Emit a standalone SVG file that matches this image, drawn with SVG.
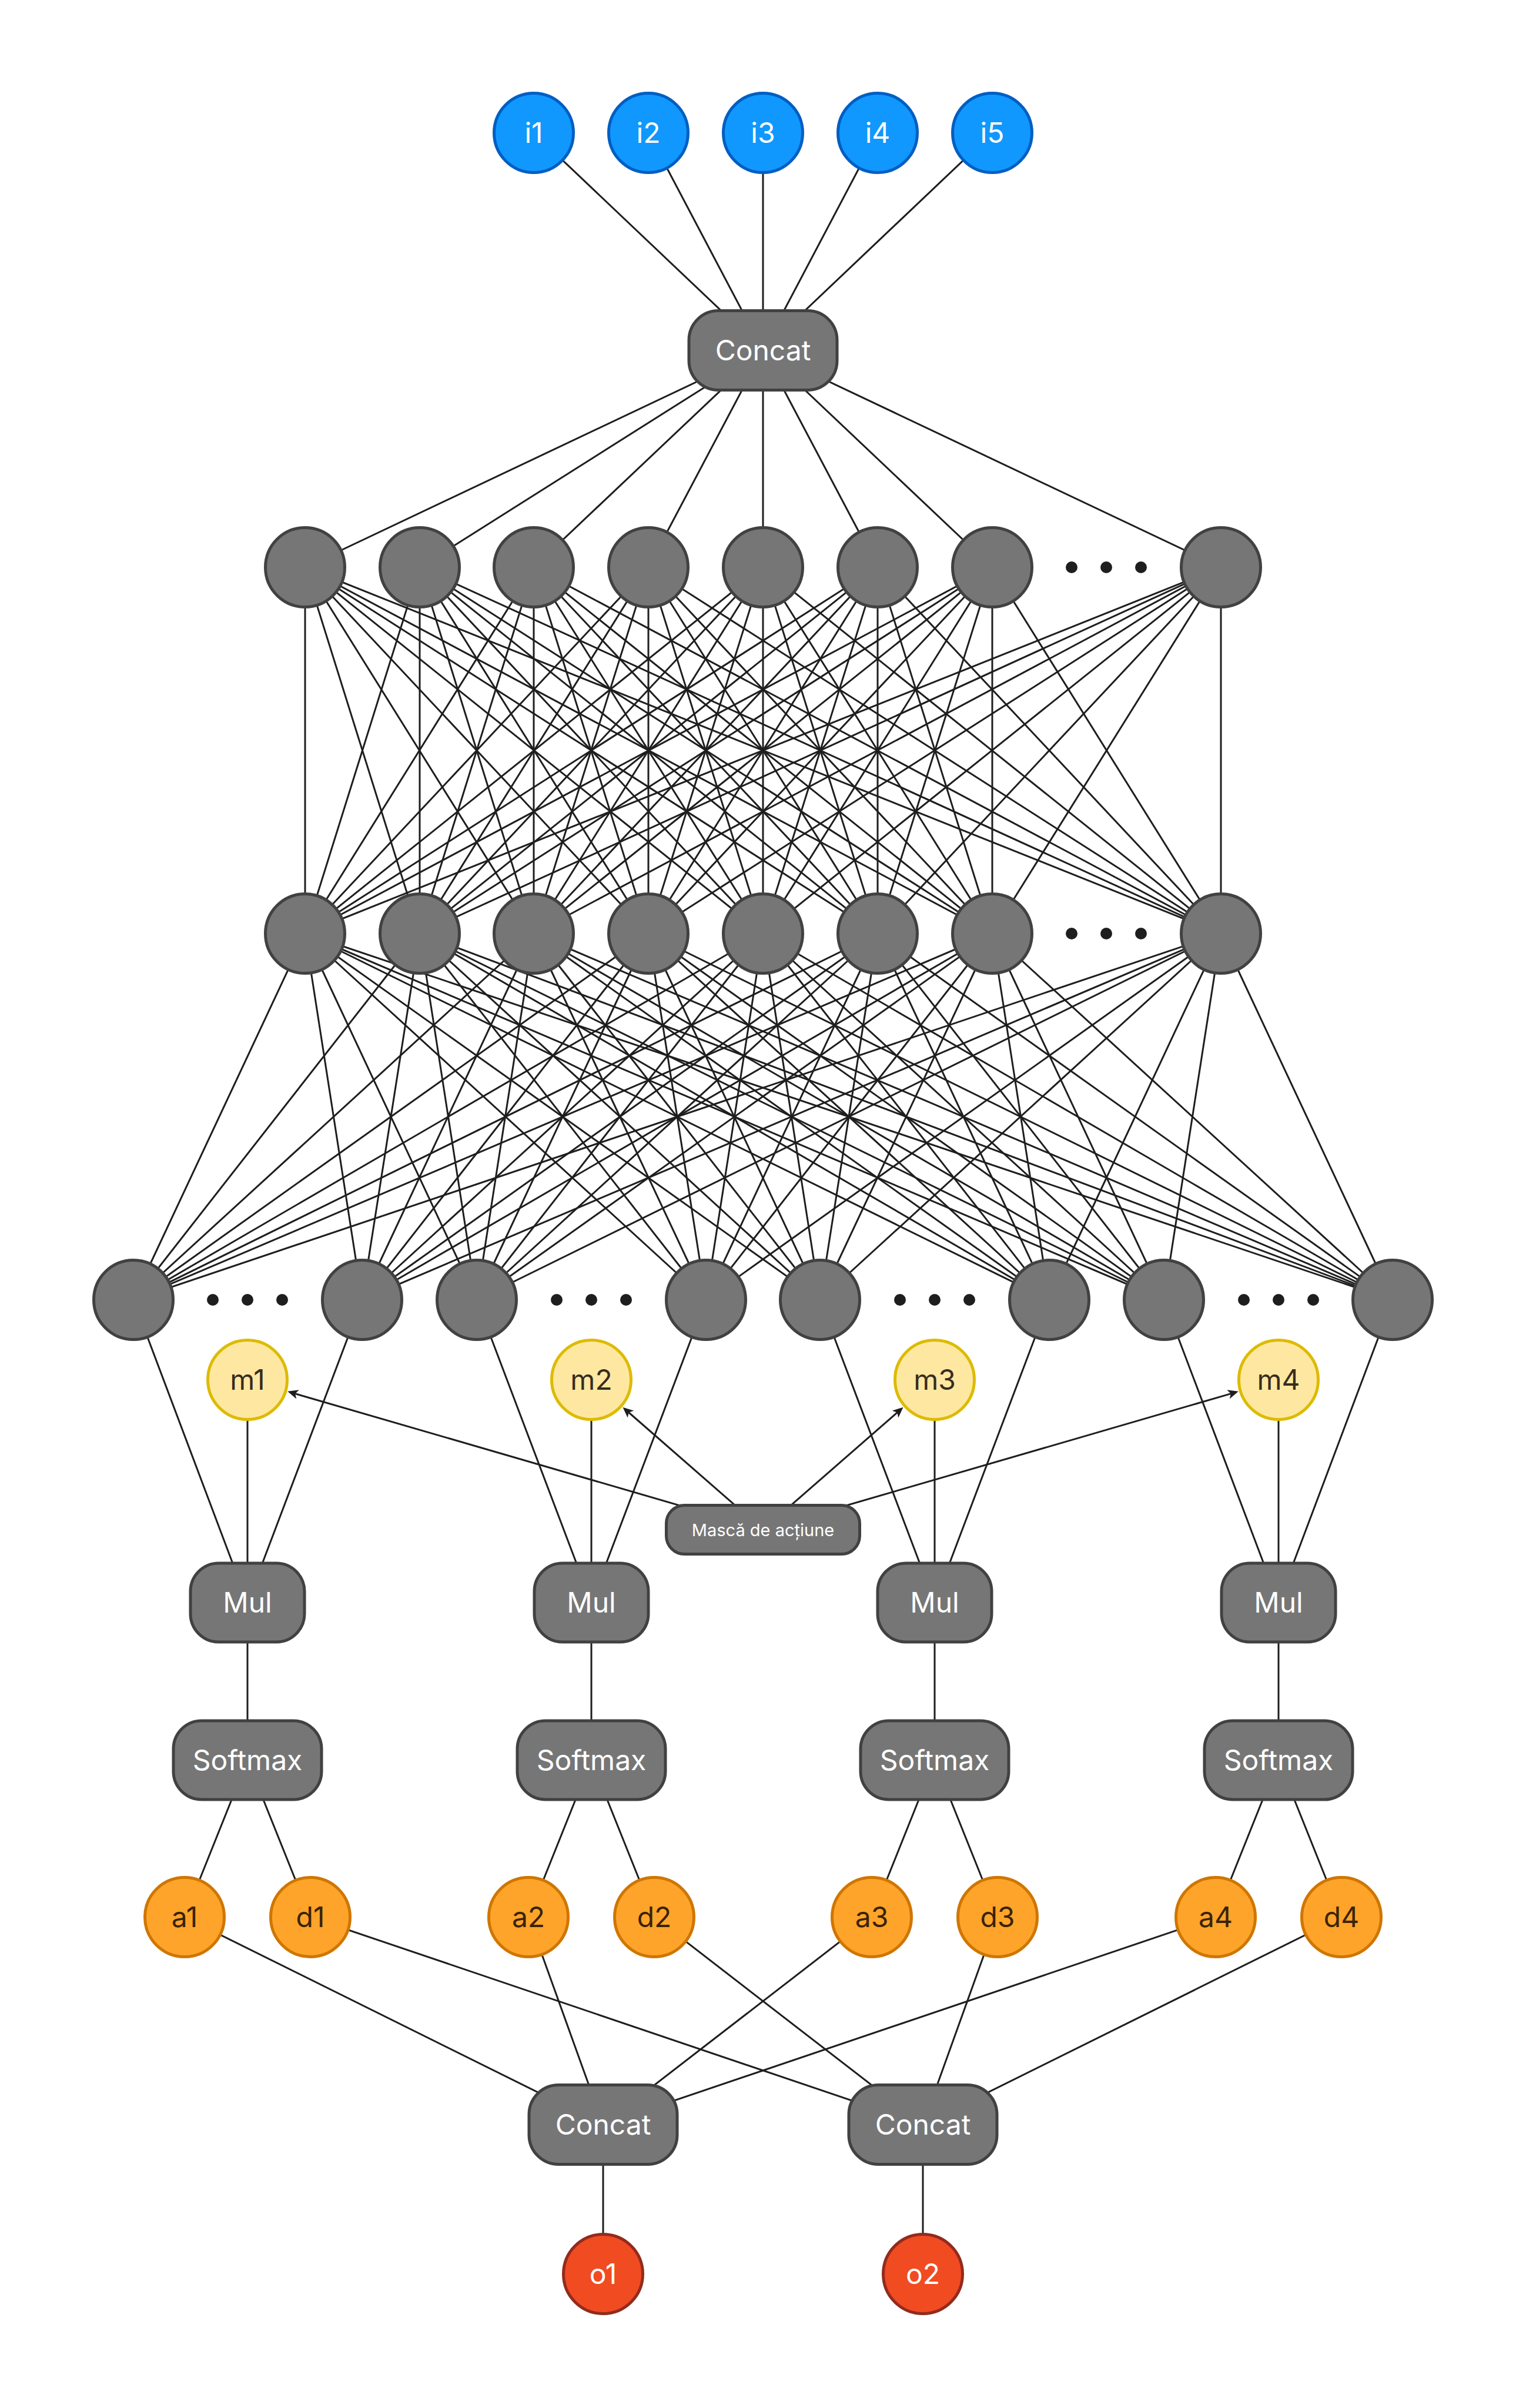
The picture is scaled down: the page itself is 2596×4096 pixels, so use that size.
<svg xmlns="http://www.w3.org/2000/svg" width="2596" height="4096" viewBox="0 0 2596 4096">
<style>
.ln{stroke:#1e1e1e;stroke-width:3;fill:none}
.g{fill:#767676;stroke:#414141;stroke-width:5}
.in{fill:#1098fe;stroke:#005ec2;stroke-width:5}
.m{fill:#fee8a1;stroke:#ddbb00;stroke-width:5}
.ad{fill:#fea42a;stroke:#cf7600;stroke-width:5}
.o{fill:#f14b22;stroke:#922b1d;stroke-width:5}
.dot{fill:#1e1e1e}
text{font-family:Inter,"Liberation Sans",sans-serif;font-size:48px;text-anchor:middle}
.w{fill:#ffffff}
.dk{fill:#382c1e}
.br{fill:#3a2306}
.sm{font-size:29px}
</style>
<defs>
<marker id="arr" markerUnits="userSpaceOnUse" viewBox="0 0 18 16" markerWidth="18" markerHeight="16" refX="10" refY="8" orient="auto">
<path d="M0 0L18 8L0 16L4.5 8Z" fill="#1e1e1e"/>
</marker>
</defs>
<rect width="2596" height="4096" fill="#ffffff"/>
<g id="connectors" class="ln">
<path d="M908 226L1298 596M1103 226L1298 596M1298 226L1298 596M1493 226L1298 596M1688 226L1298 596"/>
<path d="M1298 596L519 965M1298 596L714 965M1298 596L908 965M1298 596L1103 965M1298 596L1298 965M1298 596L1493 965M1298 596L1688 965M1298 596L2077 965"/>
<path d="M519 965L519 1588M519 965L714 1588M519 965L908 1588M519 965L1103 1588M519 965L1298 1588M519 965L1493 1588M519 965L1688 1588M519 965L2077 1588"/>
<path d="M714 965L519 1588M714 965L714 1588M714 965L908 1588M714 965L1103 1588M714 965L1298 1588M714 965L1493 1588M714 965L1688 1588M714 965L2077 1588"/>
<path d="M908 965L519 1588M908 965L714 1588M908 965L908 1588M908 965L1103 1588M908 965L1298 1588M908 965L1493 1588M908 965L1688 1588M908 965L2077 1588"/>
<path d="M1103 965L519 1588M1103 965L714 1588M1103 965L908 1588M1103 965L1103 1588M1103 965L1298 1588M1103 965L1493 1588M1103 965L1688 1588M1103 965L2077 1588"/>
<path d="M1298 965L519 1588M1298 965L714 1588M1298 965L908 1588M1298 965L1103 1588M1298 965L1298 1588M1298 965L1493 1588M1298 965L1688 1588M1298 965L2077 1588"/>
<path d="M1493 965L519 1588M1493 965L714 1588M1493 965L908 1588M1493 965L1103 1588M1493 965L1298 1588M1493 965L1493 1588M1493 965L1688 1588M1493 965L2077 1588"/>
<path d="M1688 965L519 1588M1688 965L714 1588M1688 965L908 1588M1688 965L1103 1588M1688 965L1298 1588M1688 965L1493 1588M1688 965L1688 1588M1688 965L2077 1588"/>
<path d="M2077 965L519 1588M2077 965L714 1588M2077 965L908 1588M2077 965L1103 1588M2077 965L1298 1588M2077 965L1493 1588M2077 965L1688 1588M2077 965L2077 1588"/>
<path d="M519 1588L227 2211M519 1588L616 2211M519 1588L811 2211M519 1588L1201 2211M519 1588L1395 2211M519 1588L1785 2211M519 1588L1980 2211M519 1588L2369 2211"/>
<path d="M714 1588L227 2211M714 1588L616 2211M714 1588L811 2211M714 1588L1201 2211M714 1588L1395 2211M714 1588L1785 2211M714 1588L1980 2211M714 1588L2369 2211"/>
<path d="M908 1588L227 2211M908 1588L616 2211M908 1588L811 2211M908 1588L1201 2211M908 1588L1395 2211M908 1588L1785 2211M908 1588L1980 2211M908 1588L2369 2211"/>
<path d="M1103 1588L227 2211M1103 1588L616 2211M1103 1588L811 2211M1103 1588L1201 2211M1103 1588L1395 2211M1103 1588L1785 2211M1103 1588L1980 2211M1103 1588L2369 2211"/>
<path d="M1298 1588L227 2211M1298 1588L616 2211M1298 1588L811 2211M1298 1588L1201 2211M1298 1588L1395 2211M1298 1588L1785 2211M1298 1588L1980 2211M1298 1588L2369 2211"/>
<path d="M1493 1588L227 2211M1493 1588L616 2211M1493 1588L811 2211M1493 1588L1201 2211M1493 1588L1395 2211M1493 1588L1785 2211M1493 1588L1980 2211M1493 1588L2369 2211"/>
<path d="M1688 1588L227 2211M1688 1588L616 2211M1688 1588L811 2211M1688 1588L1201 2211M1688 1588L1395 2211M1688 1588L1785 2211M1688 1588L1980 2211M1688 1588L2369 2211"/>
<path d="M2077 1588L227 2211M2077 1588L616 2211M2077 1588L811 2211M2077 1588L1201 2211M2077 1588L1395 2211M2077 1588L1785 2211M2077 1588L1980 2211M2077 1588L2369 2211"/>
<path d="M227 2211L421 2726M616 2211L421 2726M811 2211L1006 2726M1201 2211L1006 2726M1395 2211L1590 2726M1785 2211L1590 2726M1980 2211L2175 2726M2369 2211L2175 2726"/>
<path d="M421 2347V2994M1006 2347V2994M1590 2347V2994M2175 2347V2994"/>
<path d="M421 2994L314 3261M421 2994L528 3261M1006 2994L899 3261M1006 2994L1113 3261M1590 2994L1483 3261M1590 2994L1697 3261M2175 2994L2068 3261M2175 2994L2282 3261"/>
<path d="M314 3261L1026 3614M899 3261L1026 3614M1483 3261L1026 3614M2068 3261L1026 3614"/>
<path d="M528 3261L1570 3614M1113 3261L1570 3614M1697 3261L1570 3614M2282 3261L1570 3614"/>
<path d="M1026 3614V3868M1570 3614V3868"/>
<line x1="1298" y1="2602" x2="496.9" y2="2369.1" marker-end="url(#arr)"/>
<line x1="1298" y1="2602" x2="1065.5" y2="2399" marker-end="url(#arr)"/>
<line x1="1298" y1="2602" x2="1530.5" y2="2399" marker-end="url(#arr)"/>
<line x1="1298" y1="2602" x2="2099.1" y2="2369.1" marker-end="url(#arr)"/>
</g>
<g id="i1"><circle class="in" cx="908" cy="226" r="67.5"/><text class="w" x="908" y="243">i1</text></g>
<g id="i2"><circle class="in" cx="1103" cy="226" r="67.5"/><text class="w" x="1103" y="243">i2</text></g>
<g id="i3"><circle class="in" cx="1298" cy="226" r="67.5"/><text class="w" x="1298" y="243">i3</text></g>
<g id="i4"><circle class="in" cx="1493" cy="226" r="67.5"/><text class="w" x="1493" y="243">i4</text></g>
<g id="i5"><circle class="in" cx="1688" cy="226" r="67.5"/><text class="w" x="1688" y="243">i5</text></g>
<g id="concat-top"><rect class="g" x="1172" y="528.5" width="252" height="135" rx="50"/><text class="w" x="1298" y="613">Concat</text></g>
<g id="layer1">
<circle class="g" cx="519" cy="965" r="67.5"/><circle class="g" cx="714" cy="965" r="67.5"/><circle class="g" cx="908" cy="965" r="67.5"/><circle class="g" cx="1103" cy="965" r="67.5"/><circle class="g" cx="1298" cy="965" r="67.5"/><circle class="g" cx="1493" cy="965" r="67.5"/><circle class="g" cx="1688" cy="965" r="67.5"/><circle class="g" cx="2077" cy="965" r="67.5"/>
<circle class="dot" cx="1823" cy="965" r="10"/><circle class="dot" cx="1882" cy="965" r="10"/><circle class="dot" cx="1941" cy="965" r="10"/>
</g>
<g id="layer2">
<circle class="g" cx="519" cy="1588" r="67.5"/><circle class="g" cx="714" cy="1588" r="67.5"/><circle class="g" cx="908" cy="1588" r="67.5"/><circle class="g" cx="1103" cy="1588" r="67.5"/><circle class="g" cx="1298" cy="1588" r="67.5"/><circle class="g" cx="1493" cy="1588" r="67.5"/><circle class="g" cx="1688" cy="1588" r="67.5"/><circle class="g" cx="2077" cy="1588" r="67.5"/>
<circle class="dot" cx="1823" cy="1588" r="10"/><circle class="dot" cx="1882" cy="1588" r="10"/><circle class="dot" cx="1941" cy="1588" r="10"/>
</g>
<g id="layer3">
<circle class="g" cx="227" cy="2211" r="67.5"/><circle class="g" cx="616" cy="2211" r="67.5"/><circle class="g" cx="811" cy="2211" r="67.5"/><circle class="g" cx="1201" cy="2211" r="67.5"/><circle class="g" cx="1395" cy="2211" r="67.5"/><circle class="g" cx="1785" cy="2211" r="67.5"/><circle class="g" cx="1980" cy="2211" r="67.5"/><circle class="g" cx="2369" cy="2211" r="67.5"/>
<circle class="dot" cx="362" cy="2211" r="10"/><circle class="dot" cx="421" cy="2211" r="10"/><circle class="dot" cx="480" cy="2211" r="10"/>
<circle class="dot" cx="947" cy="2211" r="10"/><circle class="dot" cx="1006" cy="2211" r="10"/><circle class="dot" cx="1065" cy="2211" r="10"/>
<circle class="dot" cx="1531" cy="2211" r="10"/><circle class="dot" cx="1590" cy="2211" r="10"/><circle class="dot" cx="1649" cy="2211" r="10"/>
<circle class="dot" cx="2116" cy="2211" r="10"/><circle class="dot" cx="2175" cy="2211" r="10"/><circle class="dot" cx="2234" cy="2211" r="10"/>
</g>
<g id="m1"><circle class="m" cx="421" cy="2347" r="67.5"/><text class="dk" x="421" y="2364">m1</text></g>
<g id="m2"><circle class="m" cx="1006" cy="2347" r="67.5"/><text class="dk" x="1006" y="2364">m2</text></g>
<g id="m3"><circle class="m" cx="1590" cy="2347" r="67.5"/><text class="dk" x="1590" y="2364">m3</text></g>
<g id="m4"><circle class="m" cx="2175" cy="2347" r="67.5"/><text class="dk" x="2175" y="2364">m4</text></g>
<g id="mask"><rect class="g" x="1133.5" y="2560.5" width="329" height="83" rx="31"/><text class="w sm" x="1298" y="2612.5">Mască de acțiune</text></g>
<g id="mul1"><rect class="g" x="324" y="2659" width="194" height="134" rx="48"/><text class="w" x="421" y="2743">Mul</text></g>
<g id="mul2"><rect class="g" x="909" y="2659" width="194" height="134" rx="48"/><text class="w" x="1006" y="2743">Mul</text></g>
<g id="mul3"><rect class="g" x="1493" y="2659" width="194" height="134" rx="48"/><text class="w" x="1590" y="2743">Mul</text></g>
<g id="mul4"><rect class="g" x="2078" y="2659" width="194" height="134" rx="48"/><text class="w" x="2175" y="2743">Mul</text></g>
<g id="softmax1"><rect class="g" x="295" y="2927" width="252" height="134" rx="48"/><text class="w" x="421" y="3011">Softmax</text></g>
<g id="softmax2"><rect class="g" x="880" y="2927" width="252" height="134" rx="48"/><text class="w" x="1006" y="3011">Softmax</text></g>
<g id="softmax3"><rect class="g" x="1464" y="2927" width="252" height="134" rx="48"/><text class="w" x="1590" y="3011">Softmax</text></g>
<g id="softmax4"><rect class="g" x="2049" y="2927" width="252" height="134" rx="48"/><text class="w" x="2175" y="3011">Softmax</text></g>
<g id="a1"><circle class="ad" cx="314" cy="3261" r="67.5"/><text class="br" x="314" y="3278">a1</text></g>
<g id="d1"><circle class="ad" cx="528" cy="3261" r="67.5"/><text class="br" x="528" y="3278">d1</text></g>
<g id="a2"><circle class="ad" cx="899" cy="3261" r="67.5"/><text class="br" x="899" y="3278">a2</text></g>
<g id="d2"><circle class="ad" cx="1113" cy="3261" r="67.5"/><text class="br" x="1113" y="3278">d2</text></g>
<g id="a3"><circle class="ad" cx="1483" cy="3261" r="67.5"/><text class="br" x="1483" y="3278">a3</text></g>
<g id="d3"><circle class="ad" cx="1697" cy="3261" r="67.5"/><text class="br" x="1697" y="3278">d3</text></g>
<g id="a4"><circle class="ad" cx="2068" cy="3261" r="67.5"/><text class="br" x="2068" y="3278">a4</text></g>
<g id="d4"><circle class="ad" cx="2282" cy="3261" r="67.5"/><text class="br" x="2282" y="3278">d4</text></g>
<g id="concat1"><rect class="g" x="900" y="3546.5" width="252" height="135" rx="50"/><text class="w" x="1026" y="3631">Concat</text></g>
<g id="concat2"><rect class="g" x="1444" y="3546.5" width="252" height="135" rx="50"/><text class="w" x="1570" y="3631">Concat</text></g>
<g id="o1"><circle class="o" cx="1026" cy="3868" r="67.5"/><text class="w" x="1026" y="3885">o1</text></g>
<g id="o2"><circle class="o" cx="1570" cy="3868" r="67.5"/><text class="w" x="1570" y="3885">o2</text></g>
</svg>
